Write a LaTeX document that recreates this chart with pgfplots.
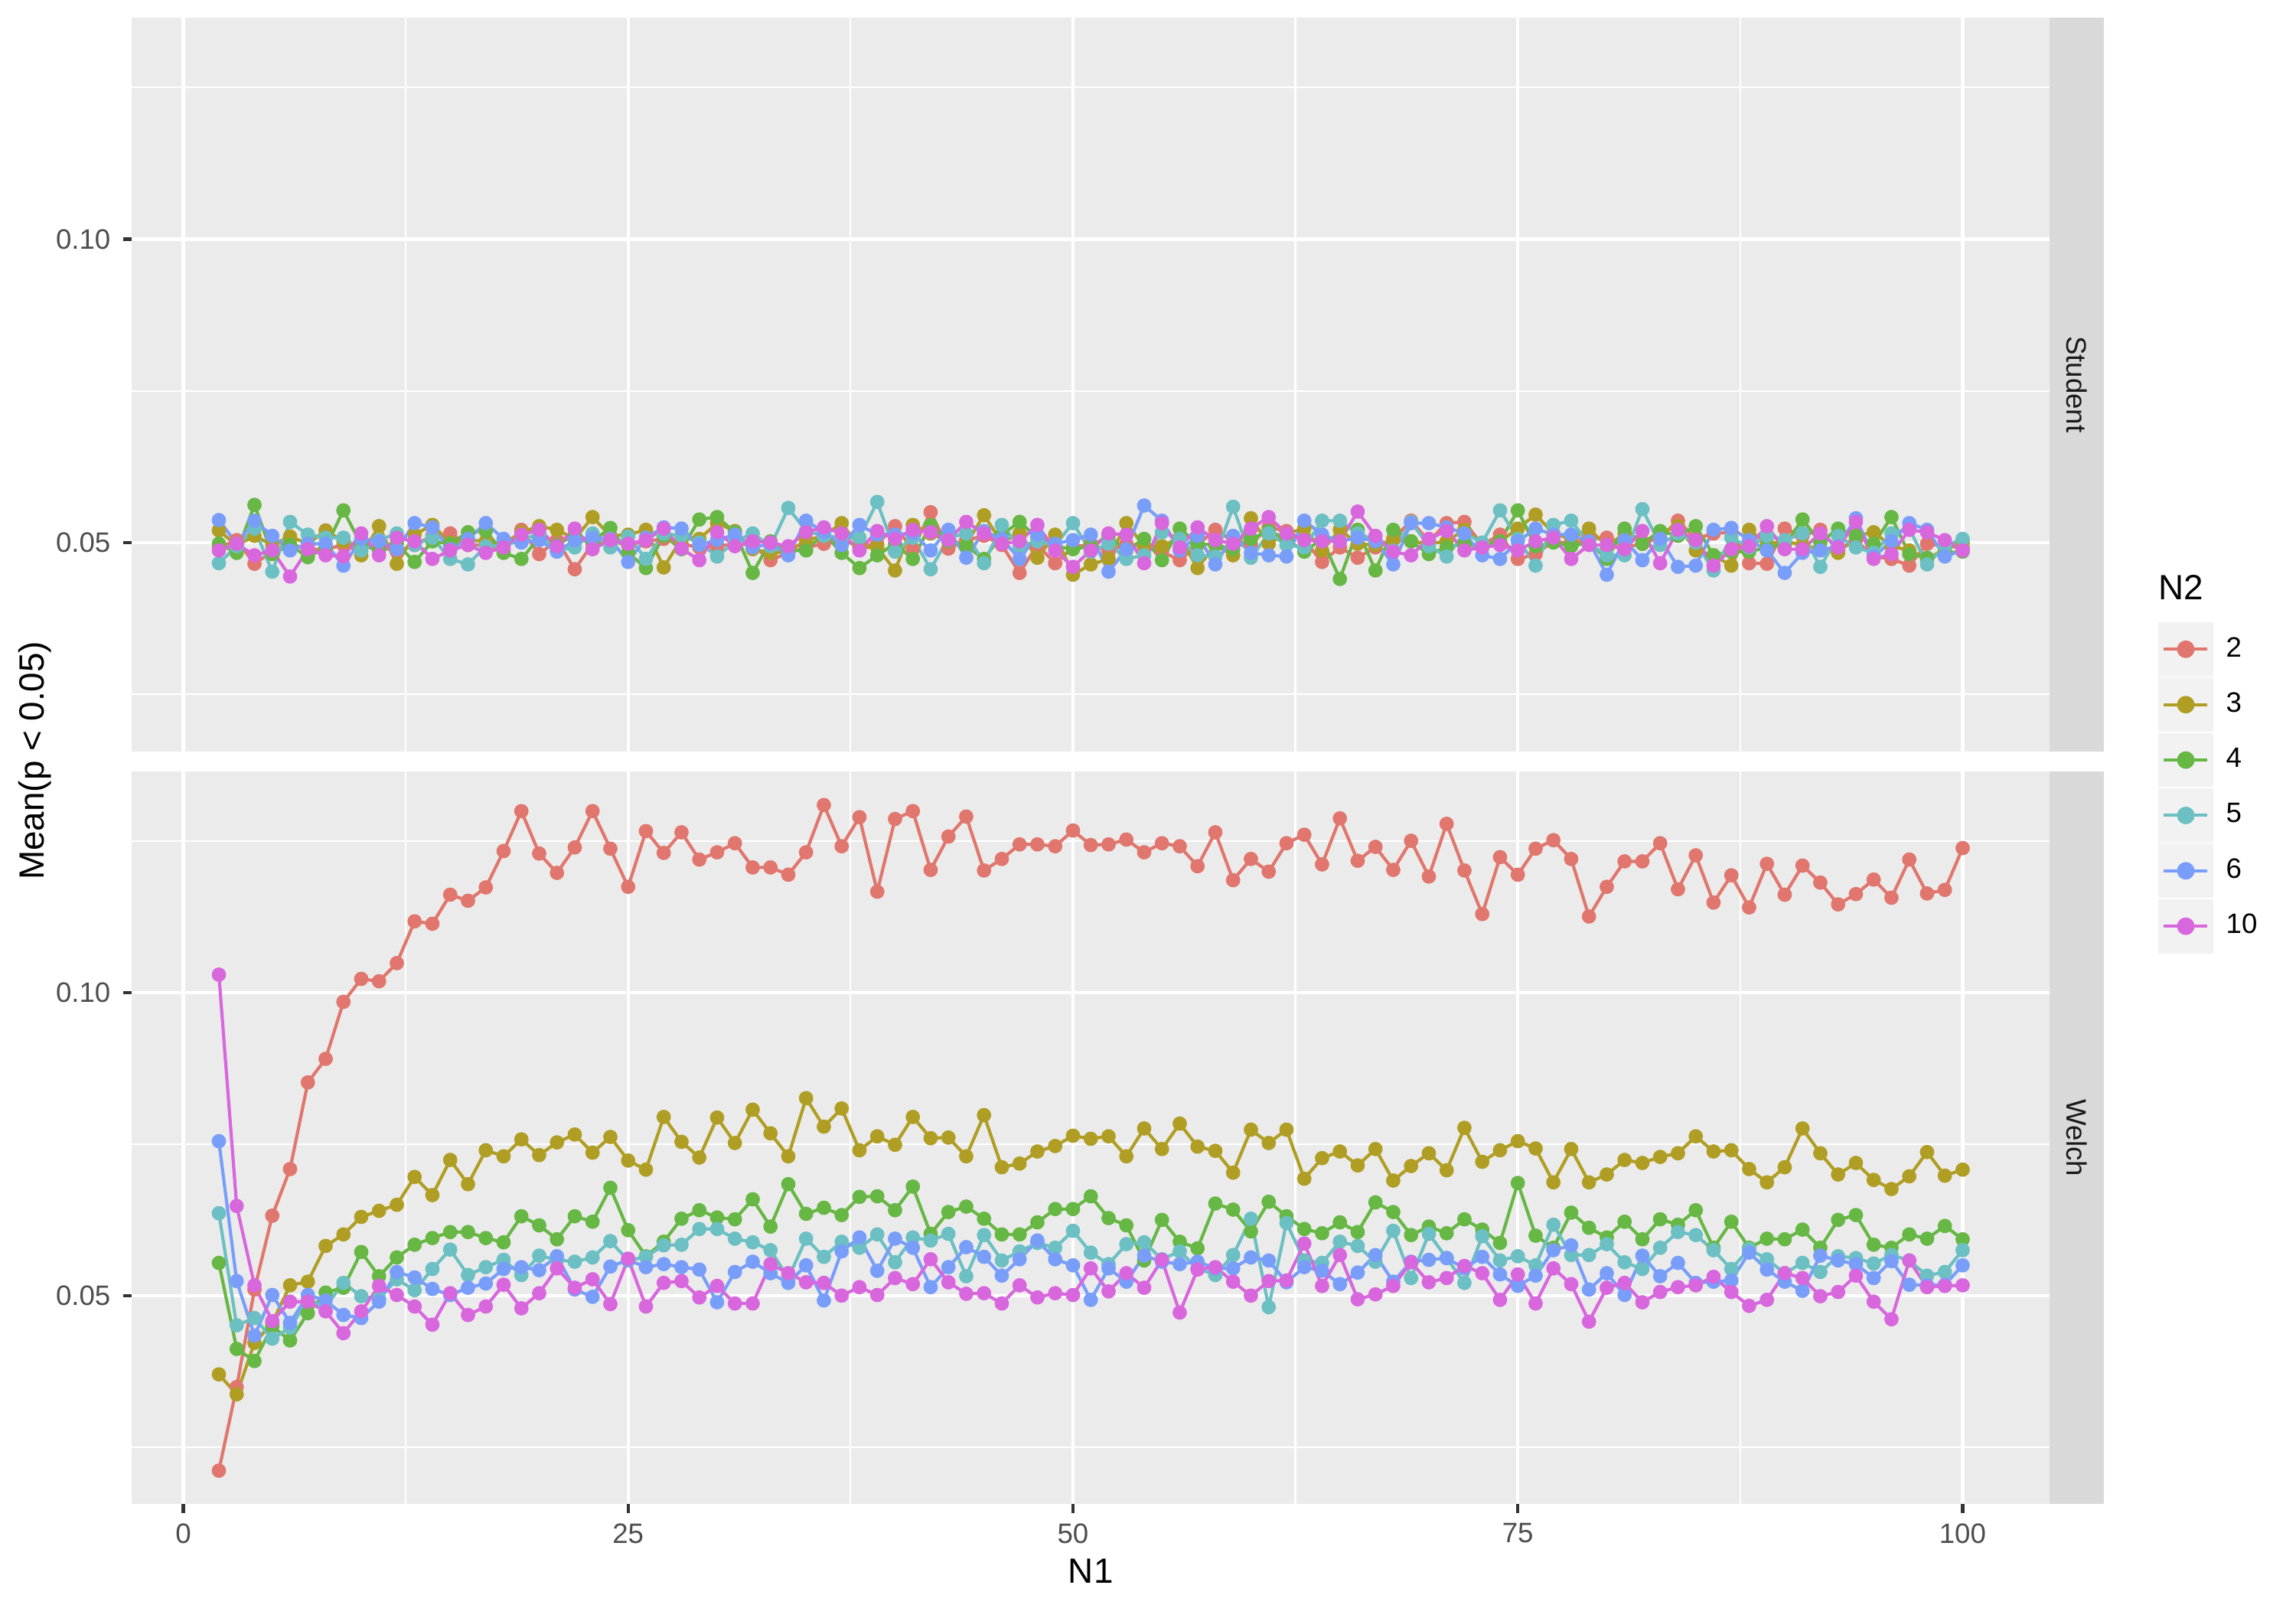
\documentclass[border=0pt]{standalone}
\usepackage{pgfplots}
\pgfplotsset{compat=1.18}
\usepackage{pgfplotstable}
\usepackage{fontspec}
\setmainfont{Liberation Sans}
\definecolor{c2}{HTML}{E0766D}
\definecolor{c3}{HTML}{B09E24}
\definecolor{c4}{HTML}{67B745}
\definecolor{c5}{HTML}{6CBFC3}
\definecolor{c6}{HTML}{799EFA}
\definecolor{c10}{HTML}{D867DE}
\definecolor{panelbg}{HTML}{EBEBEB}
\definecolor{stripbg}{HTML}{D9D9D9}
\definecolor{legkey}{HTML}{F2F2F2}
\definecolor{ticktext}{HTML}{4D4D4D}
\definecolor{tickcol}{HTML}{333333}
\definecolor{striptext}{HTML}{1A1A1A}

\pgfplotstableread{
N1 s2 s3 s4 s5 s6 s10
2 0.0492 0.0520 0.0498 0.0466 0.0537 0.0487
3 0.0504 0.0495 0.0483 0.0494 0.0498 0.0498
4 0.0465 0.0511 0.0562 0.0523 0.0536 0.0479
5 0.0485 0.0496 0.0481 0.0452 0.0511 0.0487
6 0.0498 0.0510 0.0496 0.0534 0.0487 0.0444
7 0.0489 0.0498 0.0476 0.0513 0.0498 0.0489
8 0.0489 0.0520 0.0492 0.0508 0.0498 0.0479
9 0.0496 0.0502 0.0553 0.0508 0.0462 0.0477
10 0.0496 0.0479 0.0496 0.0487 0.0506 0.0515
11 0.0494 0.0527 0.0487 0.0504 0.0502 0.0479
12 0.0485 0.0465 0.0498 0.0515 0.0489 0.0508
13 0.0496 0.0513 0.0468 0.0496 0.0532 0.0502
14 0.0511 0.0529 0.0502 0.0508 0.0525 0.0473
15 0.0515 0.0500 0.0498 0.0473 0.0489 0.0487
16 0.0496 0.0504 0.0517 0.0464 0.0506 0.0496
17 0.0496 0.0502 0.0519 0.0494 0.0532 0.0483
18 0.0487 0.0498 0.0483 0.0495 0.0506 0.0492
19 0.0521 0.0517 0.0473 0.0504 0.0500 0.0513
20 0.0481 0.0527 0.0508 0.0515 0.0504 0.0521
21 0.0504 0.0521 0.0496 0.0487 0.0485 0.0494
22 0.0456 0.0506 0.0513 0.0492 0.0504 0.0523
23 0.0498 0.0542 0.0502 0.0515 0.0508 0.0489
24 0.0502 0.0511 0.0524 0.0492 0.0506 0.0504
25 0.0496 0.0513 0.0483 0.0510 0.0468 0.0498
26 0.0502 0.0521 0.0458 0.0473 0.0508 0.0504
27 0.0506 0.0459 0.0511 0.0515 0.0525 0.0523
28 0.0498 0.0506 0.0489 0.0511 0.0523 0.0490
29 0.0492 0.0506 0.0538 0.0500 0.0496 0.0471
30 0.0494 0.0532 0.0542 0.0477 0.0504 0.0517
31 0.0498 0.0519 0.0517 0.0502 0.0513 0.0494
32 0.0496 0.0489 0.0450 0.0515 0.0492 0.0502
33 0.0471 0.0483 0.0502 0.0494 0.0498 0.0500
34 0.0483 0.0485 0.0487 0.0557 0.0479 0.0494
35 0.0492 0.0504 0.0487 0.0519 0.0536 0.0517
36 0.0498 0.0511 0.0515 0.0511 0.0517 0.0525
37 0.0504 0.0532 0.0483 0.0508 0.0496 0.0515
38 0.0494 0.0492 0.0458 0.0508 0.0529 0.0487
39 0.0498 0.0492 0.0479 0.0567 0.0513 0.0519
40 0.0527 0.0454 0.0498 0.0485 0.0513 0.0506
41 0.0489 0.0529 0.0473 0.0508 0.0515 0.0521
42 0.0550 0.0515 0.0529 0.0456 0.0487 0.0517
43 0.0490 0.0502 0.0502 0.0508 0.0521 0.0504
44 0.0504 0.0498 0.0494 0.0515 0.0475 0.0534
45 0.0511 0.0545 0.0473 0.0466 0.0519 0.0515
46 0.0496 0.0500 0.0513 0.0529 0.0506 0.0498
47 0.0450 0.0515 0.0534 0.0494 0.0473 0.0502
48 0.0496 0.0475 0.0508 0.0502 0.0513 0.0529
49 0.0466 0.0513 0.0494 0.0496 0.0498 0.0487
50 0.0492 0.0447 0.0489 0.0532 0.0504 0.0460
51 0.0498 0.0464 0.0494 0.0485 0.0513 0.0487
52 0.0485 0.0473 0.0511 0.0498 0.0452 0.0515
53 0.0498 0.0532 0.0487 0.0473 0.0489 0.0513
54 0.0494 0.0494 0.0506 0.0479 0.0561 0.0466
55 0.0485 0.0494 0.0471 0.0517 0.0536 0.0532
56 0.0471 0.0508 0.0523 0.0506 0.0487 0.0492
57 0.0496 0.0458 0.0498 0.0479 0.0511 0.0525
58 0.0521 0.0496 0.0496 0.0477 0.0464 0.0504
59 0.0502 0.0479 0.0489 0.0559 0.0511 0.0498
60 0.0498 0.0540 0.0506 0.0475 0.0483 0.0523
61 0.0525 0.0498 0.0519 0.0515 0.0479 0.0542
62 0.0519 0.0515 0.0506 0.0496 0.0477 0.0515
63 0.0504 0.0523 0.0485 0.0492 0.0536 0.0504
64 0.0468 0.0487 0.0506 0.0536 0.0513 0.0502
65 0.0492 0.0521 0.0440 0.0536 0.0502 0.0502
66 0.0475 0.0498 0.0521 0.0515 0.0508 0.0551
67 0.0492 0.0496 0.0454 0.0504 0.0502 0.0511
68 0.0506 0.0504 0.0521 0.0487 0.0464 0.0485
69 0.0536 0.0502 0.0502 0.0534 0.0532 0.0479
70 0.0502 0.0498 0.0481 0.0494 0.0532 0.0506
71 0.0532 0.0502 0.0492 0.0477 0.0525 0.0519
72 0.0534 0.0521 0.0498 0.0515 0.0515 0.0487
73 0.0496 0.0498 0.0492 0.0500 0.0479 0.0492
74 0.0513 0.0502 0.0502 0.0553 0.0473 0.0496
75 0.0473 0.0523 0.0553 0.0506 0.0502 0.0487
76 0.0481 0.0546 0.0494 0.0462 0.0523 0.0502
77 0.0502 0.0515 0.0500 0.0529 0.0513 0.0508
78 0.0498 0.0506 0.0494 0.0536 0.0513 0.0473
79 0.0506 0.0523 0.0500 0.0498 0.0502 0.0496
80 0.0508 0.0494 0.0473 0.0479 0.0447 0.0496
81 0.0492 0.0515 0.0523 0.0479 0.0504 0.0489
82 0.0498 0.0500 0.0498 0.0555 0.0471 0.0519
83 0.0508 0.0517 0.0519 0.0496 0.0506 0.0466
84 0.0536 0.0527 0.0511 0.0515 0.0460 0.0521
85 0.0506 0.0487 0.0527 0.0500 0.0462 0.0504
86 0.0515 0.0479 0.0479 0.0454 0.0521 0.0462
87 0.0517 0.0462 0.0485 0.0508 0.0524 0.0489
88 0.0466 0.0521 0.0485 0.0492 0.0504 0.0494
89 0.0465 0.0498 0.0492 0.0511 0.0487 0.0527
90 0.0523 0.0502 0.0496 0.0504 0.0450 0.0489
91 0.0511 0.0496 0.0538 0.0515 0.0483 0.0489
92 0.0521 0.0489 0.0500 0.0460 0.0487 0.0515
93 0.0487 0.0483 0.0523 0.0511 0.0494 0.0492
94 0.0504 0.0511 0.0511 0.0492 0.0540 0.0534
95 0.0477 0.0517 0.0498 0.0483 0.0477 0.0473
96 0.0473 0.0494 0.0542 0.0515 0.0502 0.0481
97 0.0462 0.0487 0.0481 0.0523 0.0532 0.0521
98 0.0498 0.0473 0.0475 0.0464 0.0521 0.0517
99 0.0494 0.0489 0.0483 0.0494 0.0477 0.0504
100 0.0492 0.0500 0.0485 0.0506 0.0487 0.0487
}\studenttab

\pgfplotstableread{
N1 s2 s3 s4 s5 s6 s10
2 0.0211 0.0370 0.0554 0.0636 0.0755 0.1030
3 0.0349 0.0337 0.0412 0.0451 0.0524 0.0648
4 0.0510 0.0422 0.0392 0.0463 0.0434 0.0517
5 0.0632 0.0455 0.0449 0.0429 0.0501 0.0458
6 0.0709 0.0517 0.0426 0.0447 0.0455 0.0490
7 0.0852 0.0523 0.0471 0.0492 0.0501 0.0490
8 0.0891 0.0582 0.0505 0.0482 0.0492 0.0474
9 0.0985 0.0601 0.0513 0.0521 0.0468 0.0438
10 0.1023 0.0630 0.0572 0.0499 0.0463 0.0474
11 0.1019 0.0640 0.0532 0.0495 0.0490 0.0516
12 0.1049 0.0650 0.0563 0.0527 0.0539 0.0501
13 0.1118 0.0696 0.0584 0.0509 0.0530 0.0482
14 0.1114 0.0666 0.0595 0.0544 0.0511 0.0452
15 0.1162 0.0724 0.0605 0.0576 0.0501 0.0504
16 0.1152 0.0684 0.0605 0.0534 0.0513 0.0468
17 0.1174 0.0740 0.0595 0.0547 0.0520 0.0482
18 0.1234 0.0730 0.0588 0.0559 0.0544 0.0518
19 0.1300 0.0758 0.0631 0.0534 0.0547 0.0479
20 0.1230 0.0732 0.0616 0.0566 0.0542 0.0504
21 0.1198 0.0753 0.0593 0.0559 0.0565 0.0545
22 0.1240 0.0766 0.0631 0.0556 0.0510 0.0513
23 0.1300 0.0736 0.0622 0.0563 0.0498 0.0527
24 0.1238 0.0762 0.0678 0.0590 0.0548 0.0486
25 0.1175 0.0723 0.0608 0.0558 0.0559 0.0561
26 0.1267 0.0708 0.0565 0.0564 0.0547 0.0482
27 0.1231 0.0795 0.0589 0.0583 0.0552 0.0521
28 0.1265 0.0754 0.0627 0.0584 0.0547 0.0524
29 0.1220 0.0728 0.0641 0.0610 0.0543 0.0497
30 0.1232 0.0794 0.0629 0.0610 0.0489 0.0516
31 0.1247 0.0752 0.0626 0.0594 0.0539 0.0487
32 0.1207 0.0807 0.0659 0.0588 0.0556 0.0487
33 0.1207 0.0768 0.0614 0.0575 0.0537 0.0552
34 0.1195 0.0730 0.0684 0.0529 0.0521 0.0537
35 0.1232 0.0826 0.0635 0.0594 0.0550 0.0522
36 0.1310 0.0779 0.0645 0.0564 0.0492 0.0521
37 0.1242 0.0809 0.0633 0.0589 0.0573 0.0500
38 0.1290 0.0740 0.0663 0.0579 0.0596 0.0514
39 0.1167 0.0763 0.0664 0.0601 0.0541 0.0501
40 0.1287 0.0749 0.0641 0.0555 0.0594 0.0529
41 0.1300 0.0795 0.0680 0.0596 0.0579 0.0519
42 0.1203 0.0760 0.0602 0.0591 0.0514 0.0560
43 0.1258 0.0761 0.0638 0.0602 0.0547 0.0522
44 0.1291 0.0730 0.0647 0.0532 0.0580 0.0503
45 0.1202 0.0798 0.0627 0.0600 0.0564 0.0504
46 0.1221 0.0712 0.0601 0.0558 0.0533 0.0487
47 0.1245 0.0718 0.0601 0.0573 0.0560 0.0517
48 0.1245 0.0738 0.0621 0.0587 0.0591 0.0497
49 0.1242 0.0747 0.0643 0.0579 0.0560 0.0504
50 0.1268 0.0764 0.0643 0.0607 0.0550 0.0501
51 0.1244 0.0759 0.0664 0.0571 0.0493 0.0545
52 0.1245 0.0763 0.0628 0.0552 0.0545 0.0507
53 0.1253 0.0730 0.0616 0.0585 0.0523 0.0537
54 0.1232 0.0776 0.0558 0.0588 0.0566 0.0513
55 0.1247 0.0742 0.0625 0.0560 0.0556 0.0559
56 0.1242 0.0784 0.0589 0.0573 0.0552 0.0472
57 0.1209 0.0746 0.0578 0.0545 0.0556 0.0543
58 0.1265 0.0739 0.0652 0.0534 0.0545 0.0547
59 0.1186 0.0703 0.0642 0.0567 0.0545 0.0523
60 0.1221 0.0774 0.0606 0.0627 0.0563 0.0500
61 0.1200 0.0752 0.0655 0.0481 0.0558 0.0524
62 0.1247 0.0774 0.0631 0.0620 0.0522 0.0525
63 0.1261 0.0693 0.0610 0.0558 0.0547 0.0586
64 0.1212 0.0727 0.0603 0.0554 0.0541 0.0516
65 0.1288 0.0738 0.0621 0.0589 0.0519 0.0567
66 0.1218 0.0715 0.0605 0.0582 0.0538 0.0494
67 0.1241 0.0742 0.0654 0.0556 0.0567 0.0502
68 0.1203 0.0690 0.0638 0.0607 0.0523 0.0516
69 0.1251 0.0714 0.0600 0.0529 0.0556 0.0555
70 0.1192 0.0735 0.0614 0.0602 0.0559 0.0522
71 0.1279 0.0707 0.0603 0.0562 0.0562 0.0529
72 0.1202 0.0777 0.0626 0.0521 0.0545 0.0549
73 0.1130 0.0721 0.0609 0.0598 0.0564 0.0537
74 0.1224 0.0740 0.0587 0.0558 0.0535 0.0493
75 0.1195 0.0755 0.0686 0.0565 0.0516 0.0535
76 0.1238 0.0743 0.0599 0.0550 0.0533 0.0487
77 0.1252 0.0687 0.0579 0.0617 0.0575 0.0545
78 0.1221 0.0742 0.0637 0.0567 0.0583 0.0519
79 0.1126 0.0687 0.0612 0.0567 0.0510 0.0457
80 0.1175 0.0700 0.0596 0.0585 0.0537 0.0513
81 0.1217 0.0724 0.0622 0.0555 0.0501 0.0521
82 0.1217 0.0719 0.0593 0.0544 0.0566 0.0489
83 0.1247 0.0729 0.0626 0.0579 0.0532 0.0506
84 0.1171 0.0735 0.0617 0.0605 0.0554 0.0514
85 0.1227 0.0763 0.0641 0.0600 0.0521 0.0517
86 0.1149 0.0738 0.0579 0.0575 0.0523 0.0531
87 0.1194 0.0740 0.0622 0.0544 0.0525 0.0506
88 0.1141 0.0709 0.0579 0.0577 0.0571 0.0483
89 0.1213 0.0687 0.0594 0.0560 0.0543 0.0493
90 0.1162 0.0712 0.0593 0.0537 0.0523 0.0537
91 0.1210 0.0776 0.0609 0.0554 0.0508 0.0529
92 0.1182 0.0735 0.0579 0.0539 0.0566 0.0499
93 0.1146 0.0700 0.0625 0.0565 0.0558 0.0506
94 0.1163 0.0719 0.0633 0.0562 0.0552 0.0533
95 0.1187 0.0691 0.0584 0.0553 0.0529 0.0490
96 0.1157 0.0676 0.0579 0.0567 0.0557 0.0461
97 0.1220 0.0697 0.0601 0.0558 0.0518 0.0558
98 0.1164 0.0737 0.0594 0.0533 0.0517 0.0514
99 0.1170 0.0698 0.0615 0.0539 0.0518 0.0516
100 0.1239 0.0708 0.0593 0.0575 0.0550 0.0517
}\welchtab

\pgfplotsset{
  panel/.style={
    scale only axis, width=601.5pt,
    xmin=-2.9, xmax=104.9, ymin=0.0156, ymax=0.1365,
    axis background/.style={fill=panelbg},
    axis line style={draw=none},
    xtick={0,25,50,75,100}, minor xtick={12.5,37.5,62.5,87.5},
    ytick={0.05,0.10}, minor ytick={0.025,0.075,0.125},
    yticklabels={0.05,0.10},
    grid=both,
    major grid style={draw=white, line width=1.07pt},
    minor grid style={draw=white, line width=0.53pt},
    tick align=outside, tick pos=left,
    major tick length=2.75pt, minor tick length=0pt,
    major tick style={draw=tickcol, line width=1.07pt},
    tick label style={font=\fontsize{8.8}{10}\selectfont, text=ticktext, inner sep=0pt},
    yticklabel style={xshift=-3.7pt},
    xticklabel style={yshift=-3.2pt},
    legend image code/.code={%
      \fill[legkey] (0pt,-8pt) rectangle (16.3pt,8pt);
      \draw[line width=0.96pt,##1] (1.2pt,0pt) -- (14.9pt,0pt);
      \fill[##1] (8.15pt,0pt) circle (2.25pt);
    },
  },
  lin/.style={no marks, line width=1.0pt, color=#1},
  pts/.style={only marks, mark=*, mark size=2.1pt, color=#1, line width=0.3pt},
}
\newcommand{\drawall}[1]{%
  \addplot[lin=c2] table[x=N1,y=s2]{#1};
  \addplot[lin=c3] table[x=N1,y=s3]{#1};
  \addplot[lin=c4] table[x=N1,y=s4]{#1};
  \addplot[lin=c5] table[x=N1,y=s5]{#1};
  \addplot[lin=c6] table[x=N1,y=s6]{#1};
  \addplot[lin=c10] table[x=N1,y=s10]{#1};
  \addplot[pts=c2] table[x=N1,y=s2]{#1};
  \addplot[pts=c3] table[x=N1,y=s3]{#1};
  \addplot[pts=c4] table[x=N1,y=s4]{#1};
  \addplot[pts=c5] table[x=N1,y=s5]{#1};
  \addplot[pts=c6] table[x=N1,y=s6]{#1};
  \addplot[pts=c10] table[x=N1,y=s10]{#1};
}

\begin{document}
\begin{tikzpicture}
\begin{axis}[panel, name=top, height=230.1pt,
    at={(41.3pt,-5.5pt)}, anchor=north west,
    xticklabels={}, x tick style={draw=none}]
  \drawall{\studenttab}
\end{axis}
\begin{axis}[panel, name=bot, height=229.6pt,
    at={(41.3pt,-242.0pt)}, anchor=north west,
    xticklabels={0,25,50,75,100},
    legend style={draw=none, fill=none, inner sep=0pt, outer sep=0pt,
      at={(1.0565,1.2043)}, anchor=north west,
      font=\fontsize{8.8}{10}\selectfont, row sep=0.37pt, column sep=4.0pt,
      nodes={inner sep=0pt, text=black}},
    legend cell align=left]
  \drawall{\welchtab}
  \addlegendimage{color=c2}\addlegendentry{2}
  \addlegendimage{color=c3}\addlegendentry{3}
  \addlegendimage{color=c4}\addlegendentry{4}
  \addlegendimage{color=c5}\addlegendentry{5}
  \addlegendimage{color=c6}\addlegendentry{6}
  \addlegendimage{color=c10}\addlegendentry{10}
\end{axis}
\fill[stripbg] (top.south east) rectangle ([xshift=17pt]top.north east);
\fill[stripbg] (bot.south east) rectangle ([xshift=17pt]bot.north east);
\node[rotate=-90, font=\fontsize{8.8}{10}\selectfont, text=striptext] at ([xshift=8.5pt]top.east) {Student};
\node[rotate=-90, font=\fontsize{8.8}{10}\selectfont, text=striptext] at ([xshift=8.5pt]bot.east) {Welch};
\node[font=\fontsize{11}{13}\selectfont] at (342.05pt,-492.7pt) {N1};
\node[rotate=90, font=\fontsize{11}{13}\selectfont] at (11.0pt,-238.5pt) {Mean(p < 0.05)};
\node[anchor=west, font=\fontsize{11}{13}\selectfont, inner sep=0pt] at (676.6pt,-184.3pt) {N2};
\pgfresetboundingbox
\path[use as bounding box] (0pt,0pt) rectangle (720pt,-504pt);
\end{tikzpicture}
\end{document}
